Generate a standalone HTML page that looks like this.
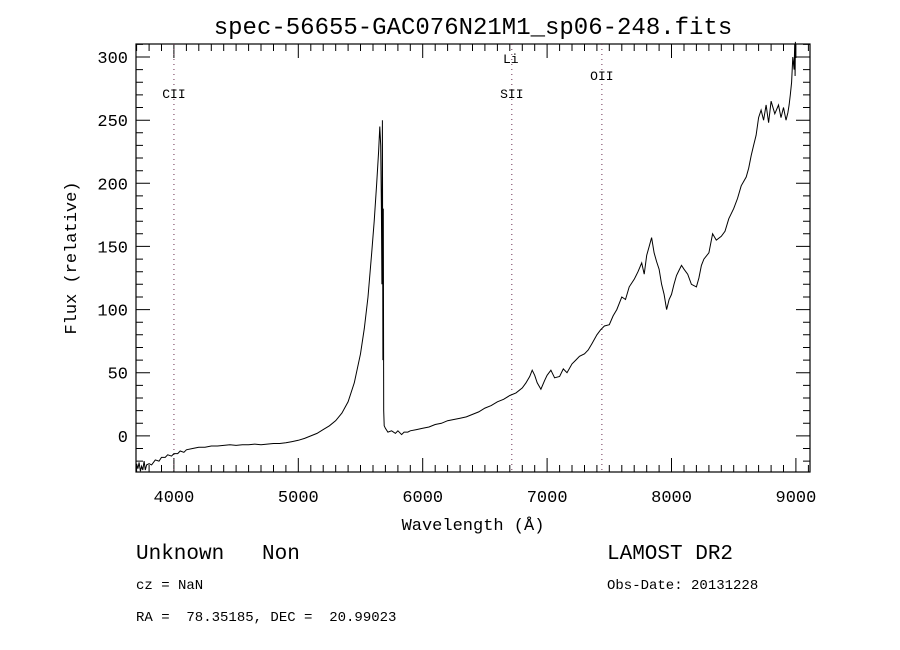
<!DOCTYPE html>
<html><head><meta charset="utf-8"><style>
html,body{margin:0;padding:0;background:#fff;}
svg{display:block;}
text{font-family:"Liberation Mono","DejaVu Sans Mono",monospace;fill:#000;white-space:pre;}
</style></head><body>
<svg id="chart" width="900" height="650" xmlns="http://www.w3.org/2000/svg">
<text x="473" y="34" font-size="24" text-anchor="middle">spec-56655-GAC076N21M1_sp06-248.fits</text>
<g id="axes"></g>
<g id="lines"></g>
<path id="spec" fill="none" stroke="#000" stroke-width="1"/>
<text x="473" y="530" font-size="17" text-anchor="middle">Wavelength (Å)</text>
<text transform="translate(76,258) rotate(-90)" font-size="17" text-anchor="middle">Flux (relative)</text>
<text x="136" y="559" font-size="21">Unknown   Non</text>
<text x="136" y="589" font-size="14">cz = NaN</text>
<text x="136" y="621" font-size="14">RA =  78.35185, DEC =  20.99023</text>
<text x="607" y="559" font-size="21">LAMOST DR2</text>
<text x="607" y="589" font-size="14">Obs-Date: 20131228</text>
</svg>
<script>
const wavelengths=[3700,3710,3720,3730,3740,3750,3760,3770,3780,3800,3820,3850,3880,3900,3930,3950,3980,4000,4030,4050,4080,4100,4150,4200,4250,4300,4350,4400,4450,4500,4550,4600,4650,4700,4750,4800,4850,4900,4950,5000,5050,5100,5150,5200,5250,5300,5350,5400,5450,5500,5530,5560,5590,5610,5630,5645,5655,5662,5668,5672,5676,5680,5683,5686,5690,5700,5720,5750,5780,5800,5830,5850,5880,5900,5950,6000,6050,6100,6150,6200,6250,6300,6350,6400,6450,6500,6550,6600,6650,6700,6750,6800,6830,6860,6880,6900,6920,6950,6980,7000,7030,7060,7100,7130,7160,7200,7230,7260,7300,7330,7360,7400,7430,7460,7500,7530,7560,7600,7630,7660,7700,7730,7760,7780,7800,7820,7840,7860,7880,7900,7920,7940,7960,7980,8000,8020,8040,8060,8080,8100,8130,8160,8200,8220,8240,8260,8300,8330,8360,8400,8430,8460,8500,8530,8560,8600,8620,8640,8660,8680,8700,8720,8740,8760,8780,8800,8830,8860,8880,8900,8920,8935,8945,8955,8965,8975,8985,8990,8993,8996];
const fluxValues=[-22,-26,-21,-28,-24,-27,-20,-27,-23,-22,-23,-19,-20,-17,-17,-15,-16,-14,-14,-12,-13,-11,-10,-9,-9,-8,-8,-7.5,-7,-7.5,-7,-7,-6.5,-7,-6.5,-6,-6,-5.5,-4.5,-3.5,-2,0,2,5,8,12,18,27,42,65,85,110,145,170,200,225,245,230,180,120,250,60,180,20,8,6,3,4,2,4,1,3,3,4,5,6,7,9,10,12,13,14,15,17,19,22,24,27,29,32,34,38,42,47,52,48,42,37,44,48,52,46,47,53,50,57,60,63,65,68,73,80,84,87,88,95,100,110,108,118,124,130,137,128,143,150,157,145,138,132,120,112,100,108,112,120,127,131,135,132,128,120,118,125,135,140,145,160,155,158,162,172,180,188,198,205,212,222,230,238,252,258,250,262,248,265,255,262,252,260,250,256,262,270,280,300,290,310,285,312,270,250,300,0];
const xTickLabels=["4000","5000","6000","7000","8000","9000"];
const yTickLabels=["0","50","100","150","200","250","300"];
const lineNames=["CII","Li","SII","OII"];
const lineWaves=[4000,6708,6716,7440];

const L=136,R=810,T=44,B=472, X0=3695,X1=9113, Y0=-28.6,Y1=310.3;
const sx=w=>L+(w-X0)/(X1-X0)*(R-L);
const sy=f=>B-(f-Y0)/(Y1-Y0)*(B-T);
const NS="http://www.w3.org/2000/svg";
function mk(t,a,parent){const e=document.createElementNS(NS,t);for(const k in a)e.setAttribute(k,a[k]);parent.appendChild(e);return e;}
const axes=document.getElementById('axes');
const frame=mk('rect',{x:L,y:T,width:R-L,height:B-T,fill:'none',stroke:'#000','stroke-width':1.2},axes);


let td='';
for(let w=3700;w<=9100;w+=100){const x=sx(w).toFixed(1);const len=(w%1000===0)?14:7;td+=`M${x} ${B}v${-len}M${x} ${T}v${len}`;}
for(let f=-20;f<=310;f+=10){const y=sy(f).toFixed(1);const len=(f%50===0)?14:7;td+=`M${L} ${y}h${len}M${R} ${y}h${-len}`;}
const ticks=mk('path',{d:td,stroke:'#000','stroke-width':1,fill:'none'},axes);


xTickLabels.forEach(s=>{const t=mk('text',{x:sx(+s),y:B+30,'font-size':17,'text-anchor':'middle'},axes);t.textContent=s;

});
yTickLabels.forEach(s=>{const t=mk('text',{x:L-8,y:sy(+s)+6,'font-size':17,'text-anchor':'end'},axes);t.textContent=s;

});
const lg=document.getElementById('lines');
const labelY=[98,63,98,80];
lineNames.forEach((n,i)=>{const x=sx(lineWaves[i]);
if(n!=="Li"){const l=mk('line',{x1:x,x2:x,y1:T,y2:B,stroke:'#6a3050','stroke-width':1,'stroke-dasharray':'1,4'},lg);

}
const t=mk('text',{x:x,y:labelY[i],'font-size':13,'text-anchor':'middle','font-family':'Liberation Serif'},lg);t.textContent=n;

});
let d='';wavelengths.forEach((w,i)=>{d+=(i?'L':'M')+sx(w).toFixed(1)+' '+sy(fluxValues[i]).toFixed(1);});
document.getElementById('spec').setAttribute('d',d);
</script>
</body></html>
